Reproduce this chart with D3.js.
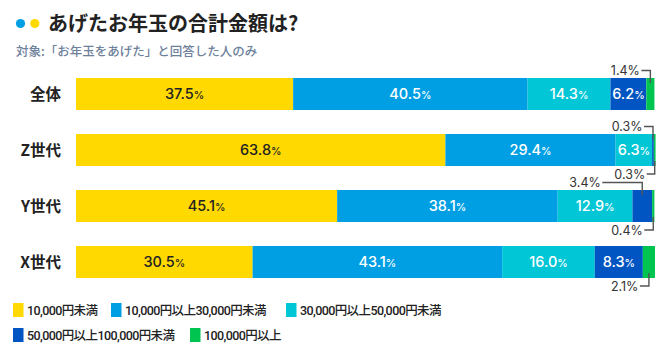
<!DOCTYPE html>
<html><head><meta charset="utf-8">
<script src="https://cdn.jsdelivr.net/npm/d3@7"></script>
<style>
html,body{margin:0;padding:0;background:#fff;}
svg{display:block;}
text{font-family:"Noto Sans CJK JP","Noto Sans",sans-serif;}
.num{font-family:Inter,"Noto Sans",sans-serif;}
.leg{font-family:Roboto,"Noto Sans CJK JP",sans-serif;letter-spacing:-0.6px;}
</style></head>
<body>
<svg id="c" width="670" height="360"></svg>
<script>
// ---- data ----
const categories = ["全体", "Z世代", "Y世代", "X世代"];
const seriesNames = ["10,000円未満", "10,000円以上30,000円未満", "30,000円以上50,000円未満", "50,000円以上100,000円未満", "100,000円以上"];
const under10k   = [37.5, 63.8, 45.1, 30.5];
const from10k    = [40.5, 29.4, 38.1, 43.1];
const from30k    = [14.3, 6.3, 12.9, 16.0];
const from50k    = [6.2, 0.3, 3.4, 8.3];
const over100k   = [1.4, 0.3, 0.4, 2.1];
const seriesValues = [under10k, from10k, from30k, from50k, over100k];
const colors = ["#FFD900", "#009FE3", "#00C6D6", "#0055C2", "#00C450"];
const title = "あげたお年玉の合計金額は?";
const subtitle = "対象:「お年玉をあげた」と回答した人のみ";

// ---- layout (callouts for thin segments: row, series, side, horizontal run) ----
const callouts = [
  {row:0, s:4, side:"top", run:9},
  {row:1, s:3, side:"top", run:9},
  {row:1, s:4, side:"bottom", run:8},
  {row:2, s:3, side:"top", run:40},
  {row:2, s:4, side:"bottom", run:9},
  {row:3, s:4, side:"bottom", run:9}
];

const svg = d3.select("#c");
const x = d3.scaleLinear().domain([0, 100]).range([76, 655]);
const y = d3.scaleBand().domain(categories).range([78, 278]).paddingInner(24 / 56).paddingOuter(0);

// title
svg.append("circle").attr("cx", 20.5).attr("cy", 23.5).attr("r", 4.6).attr("fill", "#009FE3");
svg.append("circle").attr("cx", 34.8).attr("cy", 23.5).attr("r", 4.6).attr("fill", "#FFD900");
svg.append("text").attr("x", 48).attr("y", 30.5).attr("font-size", 20).attr("font-weight", 700)
  .attr("fill", "#222").text(title);
svg.append("text").attr("x", 16).attr("y", 55.5).attr("font-size", 12.5).attr("font-weight", 500)
  .attr("fill", "#6E819B").text(subtitle);

// stacked data
const rows = categories.map((c, i) => {
  let acc = 0;
  return seriesValues.map((vals, s) => {
    const d = {cat: c, row: i, s, v: vals[i], x0: acc, x1: acc + vals[i]};
    acc += vals[i];
    return d;
  });
});
const segs = rows.flat();

// bars
svg.append("g").selectAll("rect").data(segs).join("rect")
  .attr("x", d => x(d.x0)).attr("width", d => x(d.x1) - x(d.x0))
  .attr("y", d => y(d.cat)).attr("height", y.bandwidth())
  .attr("fill", d => colors[d.s]);

// category labels
svg.append("g").selectAll("text").data(categories).join("text")
  .attr("x", 61).attr("y", d => y(d) + y.bandwidth() / 2 + 5.5)
  .attr("text-anchor", "end").attr("font-size", 15.5).attr("font-weight", 700)
  .attr("fill", "#222").text(d => d);

// inside labels
const isCallout = d => callouts.some(c => c.row === d.row && c.s === d.s);
const inside = svg.append("g").selectAll("text").data(segs.filter(d => !isCallout(d))).join("text")
  .attr("class", "num")
  .attr("x", d => (x(d.x0) + x(d.x1)) / 2)
  .attr("y", d => y(d.cat) + y.bandwidth() / 2 + 5)
  .attr("text-anchor", "middle")
  .attr("fill", d => d.s === 0 ? "#222" : "#fff")
  .attr("font-size", 14.5).attr("font-weight", 500);
inside.append("tspan").text(d => d.v.toFixed(1));
inside.append("tspan").attr("font-size", 10.5).text("%");

// callouts
const cg = svg.append("g");
callouts.forEach(c => {
  const d = rows[c.row][c.s];
  const cx = (x(d.x0) + x(d.x1)) / 2;
  const top = y(d.cat), bot = top + y.bandwidth();
  const ly = c.side === "top" ? top - 7.5 : bot + 8;
  const inner = c.side === "top" ? top + 5 : bot - 5;
  const lx = cx - c.run;
  cg.append("path")
    .attr("d", `M${lx},${ly}H${cx}V${inner}`)
    .attr("fill", "none").attr("stroke", "#555").attr("stroke-width", 1.4);
  cg.append("text").attr("class", "num")
    .attr("x", lx - 1.5).attr("y", ly + 4.5).attr("text-anchor", "end")
    .attr("font-size", 12.5).attr("font-weight", 400).attr("fill", "#333")
    .text(d.v.toFixed(1) + "%");
});

// legend
const legendPos = [[13, 310], [111, 310], [286, 310], [13, 335], [190, 335]];
const lg = svg.append("g").selectAll("g").data(seriesNames).join("g")
  .attr("transform", (d, i) => `translate(${legendPos[i][0]},${legendPos[i][1]})`);
lg.append("rect").attr("x", 0).attr("y", -7).attr("width", 10.5).attr("height", 14)
  .attr("fill", (d, i) => colors[i]);
lg.append("text").attr("class", "leg").attr("x", 14).attr("y", 5).attr("font-size", 12.5).attr("font-weight", 500)
  .attr("fill", "#222").text(d => d);
</script>
</body></html>
